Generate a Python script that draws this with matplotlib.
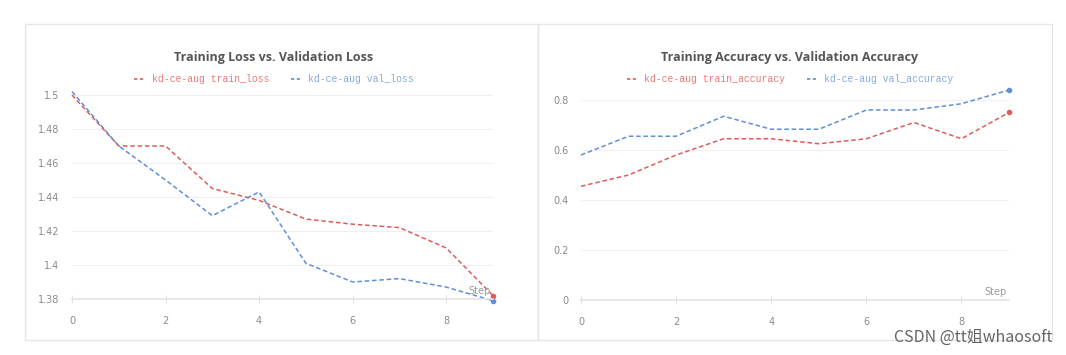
import matplotlib.pyplot as plt
from matplotlib.patches import Rectangle
from matplotlib.lines import Line2D

# data
steps = [0, 1, 2, 3, 4, 5, 6, 7, 8, 9]
train_loss = [1.500, 1.470, 1.470, 1.445, 1.438, 1.427, 1.424, 1.422, 1.410, 1.382]
val_loss = [1.502, 1.470, 1.450, 1.429, 1.443, 1.401, 1.390, 1.392, 1.387, 1.379]
train_acc = [0.455, 0.500, 0.580, 0.645, 0.645, 0.625, 0.645, 0.710, 0.645, 0.750]
val_acc = [0.580, 0.655, 0.655, 0.735, 0.683, 0.683, 0.760, 0.760, 0.785, 0.840]

loss_ticks = [1.38, 1.40, 1.42, 1.44, 1.46, 1.48, 1.50]
loss_labels = ["1.38", "1.4", "1.42", "1.44", "1.46", "1.48", "1.5"]
acc_ticks = [0, 0.2, 0.4, 0.6, 0.8]
acc_labels = ["0", "0.2", "0.4", "0.6", "0.8"]
x_ticks = [0, 2, 4, 6, 8]

RED = "#e05c5c"
BLUE = "#5f8fd8"
RED_TXT = "#e67a7a"
BLUE_TXT = "#86a9e2"
W, H = 1066, 355

fig = plt.figure(figsize=(W / 100, H / 100), dpi=100)

# panel frames
for x0, x1 in [(25, 538), (538, 1052)]:
    fig.patches.append(Rectangle((x0 / W, 1 - 340 / H), (x1 - x0) / W, (340 - 24) / H,
                                 transform=fig.transFigure, fill=False,
                                 edgecolor="#e6e6e6", linewidth=1))


def setup(ax, yticks, ylabels):
    ax.set_xlim(0, 9)
    ax.set_xticks(x_ticks)
    ax.set_yticks(yticks)
    ax.set_yticklabels(ylabels)
    for s in ["top", "right", "left"]:
        ax.spines[s].set_visible(False)
    ax.spines["bottom"].set_color("#e3e3e3")
    ax.spines["bottom"].set_linewidth(1.2)
    ax.grid(axis="y", color="#f0f0f0", linewidth=0.8)
    ax.tick_params(axis="y", length=0, pad=9, labelsize=7, labelcolor="#8a8a8a")
    ax.tick_params(axis="x", length=6, direction="inout", color="#e3e3e3",
                   pad=9, labelsize=7, labelcolor="#8a8a8a")
    ax.text(8.95, 0.012, "Step", transform=ax.get_xaxis_transform(), ha="right",
            va="bottom", fontsize=7, color="#9a9a9a")


def draw(ax, a, b):
    ax.plot(steps, a, color=RED, linestyle=(0, (3, 1.8)), linewidth=1.1, clip_on=False)
    ax.plot(steps, b, color=BLUE, linestyle=(0, (3, 1.8)), linewidth=1.1, clip_on=False)
    ax.plot(steps[-1], a[-1], "o", color=RED, markersize=3, clip_on=False)
    ax.plot(steps[-1], b[-1], "o", color=BLUE, markersize=3, clip_on=False)


def header(cx, title, lab1, lab2):
    fig.text(cx / W, 1 - 57 / H, title, ha="center", va="center", fontsize=9,
             fontweight="bold", family="Open Sans", color="#555555")
    handles = [Line2D([], [], color=RED, linestyle=(0, (2, 1.5)), linewidth=1.2),
               Line2D([], [], color=BLUE, linestyle=(0, (2, 1.5)), linewidth=1.2)]
    leg = fig.legend(handles, [lab1, lab2], loc="center", ncol=2,
                     bbox_to_anchor=(cx / W, 1 - 79 / H), frameon=False,
                     handlelength=1.0, handletextpad=0.8, columnspacing=2.2,
                     prop={"family": "Liberation Mono", "size": 7})
    for t, c in zip(leg.get_texts(), [RED_TXT, BLUE_TXT]):
        t.set_color(c)


ax1 = fig.add_axes([72 / W, 1 - 299 / H, 421 / W, (299 - 86.5) / H])
setup(ax1, loss_ticks, loss_labels)
ax1.set_ylim(1.38, 1.505)
draw(ax1, train_loss, val_loss)
header(274, "Training Loss vs. Validation Loss",
       "kd-ce-aug train_loss", "kd-ce-aug val_loss")

ax2 = fig.add_axes([581 / W, 1 - 300 / H, 428 / W, (300 - 85) / H])
setup(ax2, acc_ticks, acc_labels)
ax2.set_ylim(0, 0.86)
draw(ax2, train_acc, val_acc)
header(790, "Training Accuracy vs. Validation Accuracy",
       "kd-ce-aug train_accuracy", "kd-ce-aug val_accuracy")

fig.text(1052 / W, 1 - 337 / H, "CSDN @tt姐whaosoft", ha="right", va="center",
         fontsize=11.5, color="#666666", family=["Noto Sans CJK SC", "DejaVu Sans"])

fig.savefig("out.png", dpi=100)
